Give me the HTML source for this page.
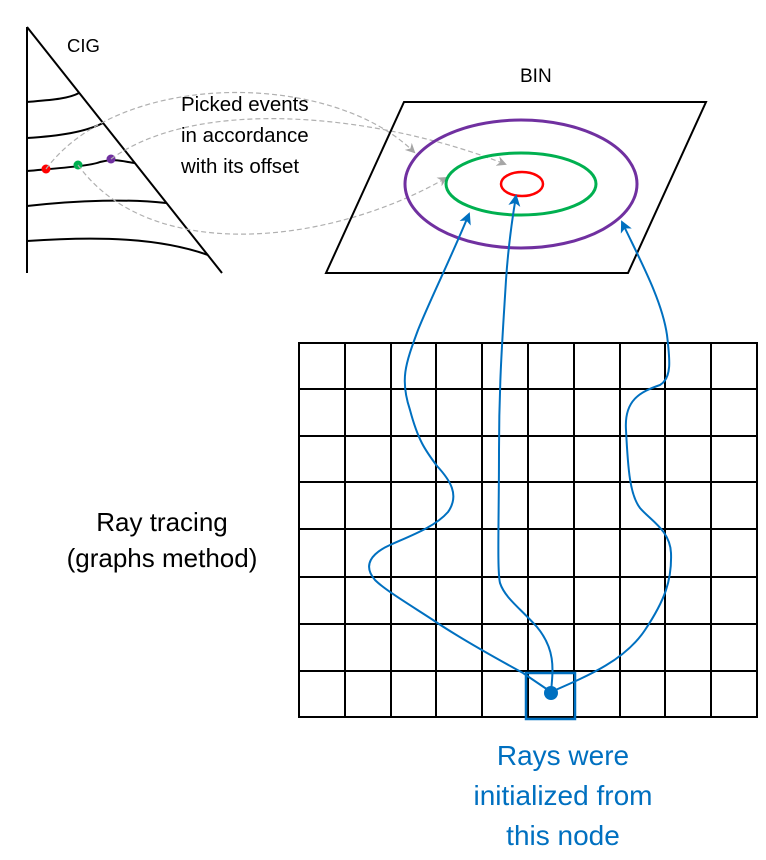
<!DOCTYPE html>
<html><head><meta charset="utf-8"><style>
body{margin:0;background:#fff}
svg{display:block}
text{font-family:"Liberation Sans",sans-serif}
</style></head><body>
<svg width="766" height="860" viewBox="0 0 766 860" xmlns="http://www.w3.org/2000/svg">
<defs>
<marker id="ga" markerWidth="10" markerHeight="10" refX="8" refY="5" orient="auto" markerUnits="userSpaceOnUse"><path d="M0,0 L10,5 L0,10 L3,5 Z" fill="#a6a6a6"/></marker>
<marker id="ba" markerWidth="12" markerHeight="12" refX="10" refY="6" orient="auto" markerUnits="userSpaceOnUse"><path d="M0,0 L12,6 L0,12 L3,6 Z" fill="#0070c0"/></marker>
</defs>
<g stroke="#000" stroke-width="2" fill="none">
<line x1="27" y1="27" x2="27" y2="273"/>
<line x1="27" y1="27" x2="222" y2="273"/>
<path d="M27,102 C50,100 68,99 79,93"/>
<path d="M27,138 C60,136 85,132 103,123"/>
<path d="M27,171 C60,168 90,166 100,162 C115,158 125,162 135,163"/>
<path d="M27,206 C80,200 130,199 166,203"/>
<path d="M27,241 C100,236 160,238 208,255"/>
</g>
<circle cx="46" cy="169" r="4.5" fill="#ff0000"/>
<circle cx="78" cy="165" r="4.5" fill="#00b050"/>
<circle cx="111" cy="159" r="4.5" fill="#7030a0"/>
<text x="67" y="52" font-size="18.5">CIG</text>
<text x="181" y="111" font-size="20.5">Picked events</text>
<text x="181" y="142" font-size="20.5">in accordance</text>
<text x="181" y="173" font-size="20.5">with its offset</text>
<g stroke="#b0b0b0" stroke-width="1.2" fill="none" stroke-dasharray="5,3">
<path d="M46,169 C120,70 330,70 414,152" marker-end="url(#ga)"/>
<path d="M111,159 C200,95 380,115 505,164" marker-end="url(#ga)"/>
<path d="M78,165 C150,265 330,245 446,178" marker-end="url(#ga)"/>
</g>
<text x="520" y="82" font-size="19">BIN</text>
<polygon points="404,102 706,102 628,273 326,273" fill="none" stroke="#000" stroke-width="2"/>
<ellipse cx="521" cy="184" rx="116" ry="64" fill="none" stroke="#7030a0" stroke-width="3"/>
<ellipse cx="521" cy="184" rx="75" ry="31" fill="none" stroke="#00b050" stroke-width="3"/>
<ellipse cx="522" cy="184" rx="21" ry="12" fill="none" stroke="#ff0000" stroke-width="2.5"/>
<g stroke="#000" stroke-width="2">
<rect x="299" y="343" width="458" height="374" fill="none"/>
<line x1="345" y1="343" x2="345" y2="717"/><line x1="391" y1="343" x2="391" y2="717"/>
<line x1="436" y1="343" x2="436" y2="717"/><line x1="482" y1="343" x2="482" y2="717"/>
<line x1="528" y1="343" x2="528" y2="717"/><line x1="574" y1="343" x2="574" y2="717"/>
<line x1="620" y1="343" x2="620" y2="717"/><line x1="665" y1="343" x2="665" y2="717"/>
<line x1="711" y1="343" x2="711" y2="717"/>
<line x1="299" y1="389" x2="757" y2="389"/><line x1="299" y1="436" x2="757" y2="436"/>
<line x1="299" y1="482" x2="757" y2="482"/><line x1="299" y1="529" x2="757" y2="529"/>
<line x1="299" y1="577" x2="757" y2="577"/><line x1="299" y1="624" x2="757" y2="624"/>
<line x1="299" y1="671" x2="757" y2="671"/>
</g>
<rect x="526" y="673" width="49" height="46" fill="none" stroke="#0070c0" stroke-width="2.5"/>
<g stroke="#0070c0" stroke-width="2" fill="none">
<path d="M551,692 L523,673 C490,655 455,635 433,620 C410,605 385,590 375,580 C362,565 372,553 390,545 C410,536 435,527 448,512 C460,495 450,480 437,466 C425,450 418,440 410,410 C400,380 405,365 418,330 C430,300 450,260 469,214" marker-end="url(#ba)"/>
<path d="M551,692 C553,670 556,650 537,627 C520,608 505,598 500,583 C497,570 499,520 499,450 C499,380 503,330 506,280 C508,250 512,220 516,196" marker-end="url(#ba)"/>
<path d="M551,692 C590,675 625,660 645,630 C665,600 672,580 671,553 C670,530 650,520 640,508 C630,495 628,470 626,430 C624,400 640,392 660,385 C672,378 670,360 667,335 C662,300 640,260 622,222" marker-end="url(#ba)"/>
</g>
<circle cx="551" cy="693" r="7" fill="#0070c0"/>
<text x="162" y="531" font-size="26" text-anchor="middle">Ray tracing</text>
<text x="162" y="567" font-size="26" text-anchor="middle">(graphs method)</text>
<g fill="#0070c0" font-size="28" text-anchor="middle">
<text x="563" y="765">Rays were</text>
<text x="563" y="805">initialized from</text>
<text x="563" y="845">this node</text>
</g>
</svg>
</body></html>
